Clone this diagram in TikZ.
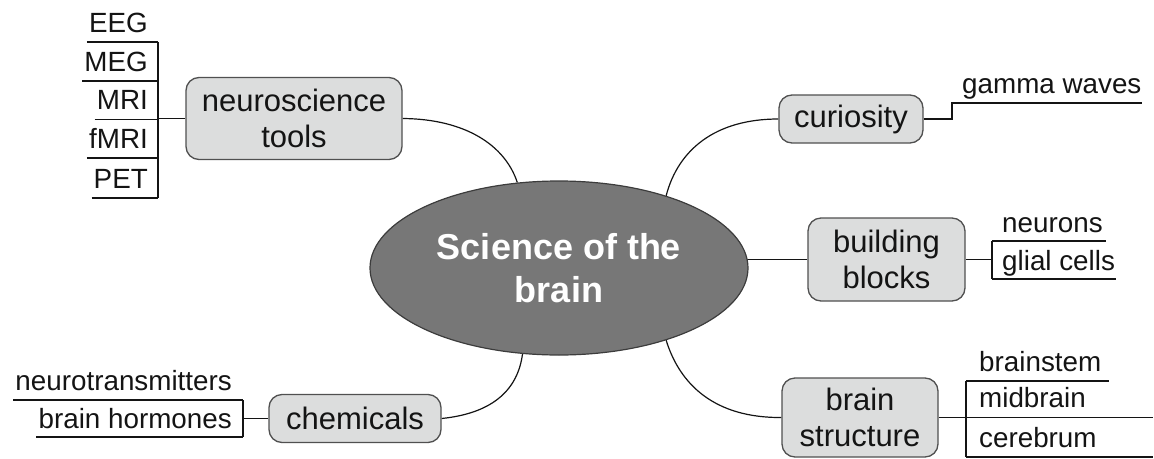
\documentclass[tikz,border=0pt]{standalone}
\usepackage{fontspec}
\setmainfont{Liberation Sans}
\usetikzlibrary{shapes.geometric,backgrounds,calc}
\definecolor{boxfill}{HTML}{DCDDDD}
\definecolor{boxedge}{HTML}{505050}
\definecolor{hubfill}{HTML}{777777}
\definecolor{hubedge}{HTML}{3C3C3C}
\definecolor{ink}{HTML}{141414}
\begin{document}
\begin{tikzpicture}[x=1pt,y=-1pt,
  topic/.style={draw=boxedge, line width=1.3pt, fill=boxfill, rounded corners=13pt,
    inner sep=0pt, align=center, text=ink, font=\fontsize{31}{36}\selectfont},
  hub/.style={ellipse, draw=hubedge, line width=1.2pt, fill=hubfill,
    minimum width=378pt, minimum height=174pt, inner sep=0pt, align=center,
    text=white, font=\fontsize{36}{43}\selectfont\bfseries},
  leaf/.style={inner sep=0pt, text=ink, font=\fontsize{27.8}{31}\selectfont},
  branch/.style={draw=ink, line width=1.2pt},
  rule/.style={draw=ink, line width=1.5pt}
]
\useasboundingbox (0,0) rectangle (1154,458);

% central topic
\node[hub] (hub) at (559,268) {Science of the\\brain};

% main branches
\node[topic, minimum width=216pt, minimum height=82pt] (tools) at (294,118.5) {neuroscience\\tools};
\node[topic, minimum width=144pt, minimum height=48pt] (cur) at (851,119) {curiosity};
\node[topic, minimum width=157pt, minimum height=83pt] (bb) at (886.5,259.5) {building\\blocks};
\node[topic, minimum width=156pt, minimum height=79pt] (bs) at (860,417.5) {brain\\structure};
\node[topic, minimum width=172pt, minimum height=48pt] (chem) at (355,418.5) {chemicals};

% bar positions of the leaf groups
\coordinate (tbar) at (158,0);
\coordinate (cbar) at (952,0);
\coordinate (bbar) at (992,0);
\coordinate (sbar) at (966,0);
\coordinate (hbar) at (243,0);
\coordinate (redge) at (1153,0);

% leaves: neuroscience tools
\node[leaf, anchor=base east] (eeg) at (148,32) {EEG};
\node[leaf, anchor=base east] (meg) at (148,71) {MEG};
\node[leaf, anchor=base east] (mri) at ($(tbar |- tools.west)+(-10,-9)$) {MRI};
\node[leaf, anchor=base east] (fmri) at (148,148) {fMRI};
\node[leaf, anchor=base east] (pet) at (148,188) {PET};

% leaf: curiosity
\node[leaf, anchor=base west] (gamma) at (962,93) {gamma waves};

% leaves: building blocks
\node[leaf, anchor=base west] (neur) at (1002,232) {neurons};
\node[leaf, anchor=base west] (glia) at (1002,270) {glial cells};

% leaves: brain structure
\node[leaf, anchor=base west] (stem) at (979,371) {brainstem};
\node[leaf, anchor=base west] (mid) at ($(sbar |- bs.east)+(13,-10)$) {midbrain};
\node[leaf, anchor=base west] (cereb) at (979,447) {cerebrum};

% leaves: chemicals
\node[leaf, anchor=base east] (ntr) at (232,390) {neurotransmitters};
\node[leaf, anchor=base east] (horm) at (232,428) {brain hormones};

\begin{scope}[on background layer]
  % curved branches into the central ellipse
  \draw[branch] (tools.east) .. controls (465,119) and (505,145) .. (hub.116);
  \draw[branch] (cur.west) .. controls (715,119) and (678,150) .. (hub.34);
  \draw[branch] (bs.west) .. controls (715,418) and (680,385) .. (hub.-34);
  \draw[branch] (chem.east) .. controls (495,413) and (518,388) .. (hub.-113);
  \draw[branch] (bb.west) -- (bb.west -| hub.center);
\end{scope}

% neuroscience tools group
\draw[rule] (tools.west) -- (tools.west -| tbar);
\draw[rule] ($(tbar |- eeg.base)+(0,10)$) -- ($(tbar |- pet.base)+(0,10)$);
\foreach \n in {eeg,meg,mri,fmri,pet}
  \draw[rule] ($(\n.base west)+(-2,10)$) -- ($(tbar |- \n.base)+(0,10)$);

% curiosity group
\draw[rule] (cur.east) -- (cur.east -| cbar) -- ($(cbar |- gamma.base)+(0,10)$)
  -- ($(gamma.base east)+(0,10)$);

% building blocks group
\draw[rule] (bb.east) -- (bb.east -| bbar);
\draw[rule] ($(bbar |- neur.base)+(0,9)$) -- ($(bbar |- glia.base)+(0,9)$);
\draw[rule] ($(bbar |- neur.base)+(0,9)$) -- ($(neur.base east)+(3,9)$);
\draw[rule] ($(bbar |- glia.base)+(0,9)$) -- ($(glia.base east)+(1,9)$);

% brain structure group
\draw[rule] (bs.east) -- (bs.east -| redge);
\draw[rule] ($(sbar |- stem.base)+(0,10)$) -- ($(sbar |- cereb.base)+(0,10)$);
\draw[rule] ($(sbar |- stem.base)+(0,10)$) -- ($(stem.base east)+(8,10)$);
\draw[rule] ($(sbar |- cereb.base)+(0,10)$) -- ($(redge |- cereb.base)+(0,10)$);

% chemicals group
\draw[rule] (chem.west) -- (chem.west -| hbar);
\draw[rule] ($(hbar |- ntr.base)+(0,10)$) -- ($(hbar |- horm.base)+(0,9)$);
\draw[rule] ($(ntr.base west)+(-2,10)$) -- ($(hbar |- ntr.base)+(0,10)$);
\draw[rule] ($(horm.base west)+(-2,9)$) -- ($(hbar |- horm.base)+(0,9)$);
\end{tikzpicture}
\end{document}
